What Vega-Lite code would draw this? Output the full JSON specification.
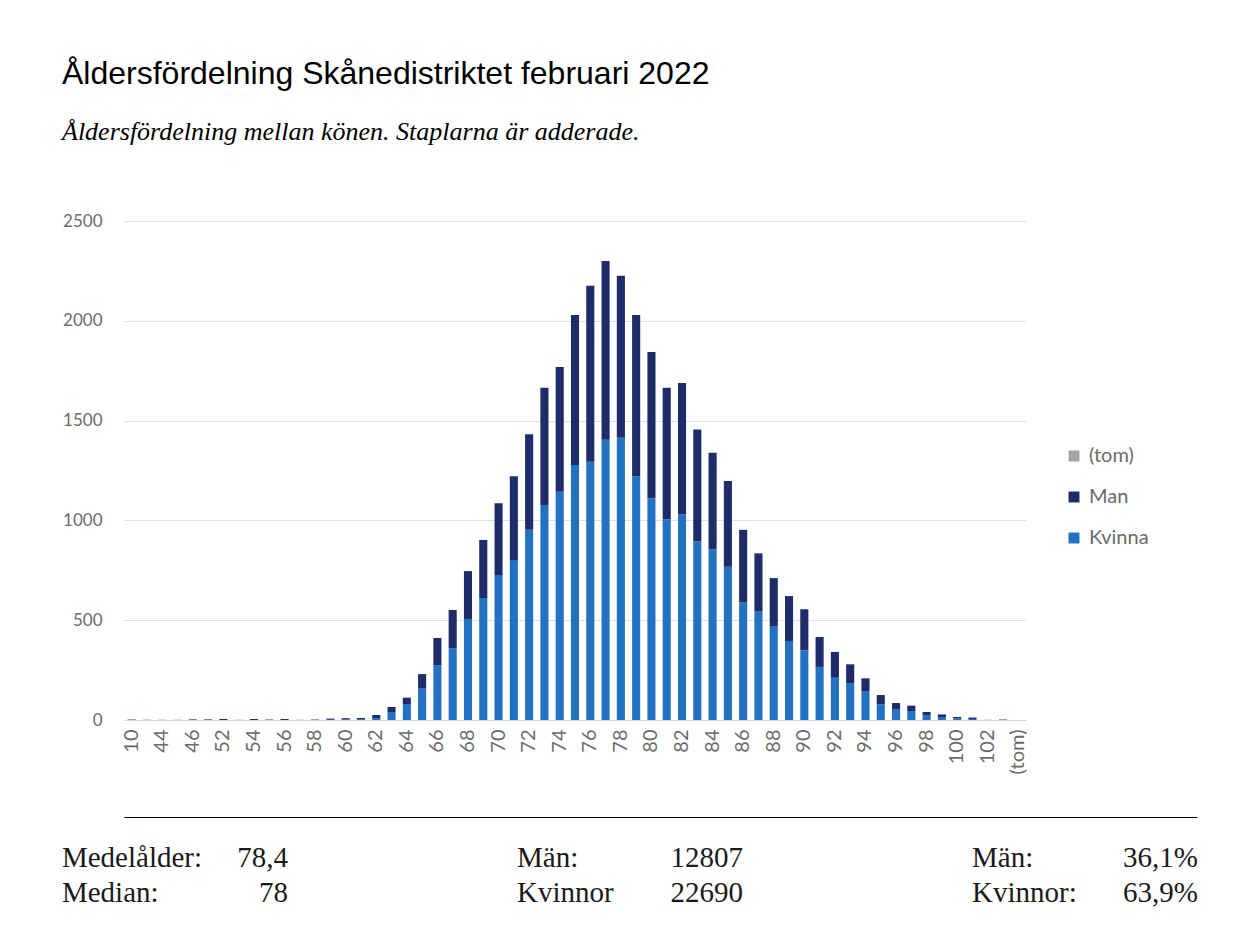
{
  "$schema": "https://vega.github.io/schema/vega-lite/v6.json",
  "padding": {"left": 42, "top": 58, "right": 5, "bottom": 0},
  "background": "white",
  "title": {
    "text": "Åldersfördelning Skånedistriktet februari 2022",
    "subtitle": "Åldersfördelning mellan könen. Staplarna är adderade.",
    "anchor": "start",
    "frame": "bounds",
    "dx": 20,
    "font": "Liberation Sans",
    "fontSize": 32,
    "fontWeight": "normal",
    "color": "#000000",
    "subtitleFont": "Liberation Serif",
    "subtitleFontSize": 26,
    "subtitleFontStyle": "italic",
    "subtitleColor": "#000000",
    "subtitlePadding": 28,
    "offset": 66
  },
  "datasets": {
    "alder": [
      {"alder": "10", "kon": "Kvinna", "antal": 3},
      {"alder": "43", "kon": "Man", "antal": 1},
      {"alder": "44", "kon": "Kvinna", "antal": 1},
      {"alder": "45", "kon": "Kvinna", "antal": 1},
      {"alder": "46", "kon": "Man", "antal": 3},
      {"alder": "51", "kon": "Man", "antal": 3},
      {"alder": "52", "kon": "Man", "antal": 5},
      {"alder": "53", "kon": "Kvinna", "antal": 1},
      {"alder": "54", "kon": "Man", "antal": 5},
      {"alder": "55", "kon": "Kvinna", "antal": 3},
      {"alder": "56", "kon": "Man", "antal": 5},
      {"alder": "57", "kon": "Kvinna", "antal": 1},
      {"alder": "58", "kon": "Kvinna", "antal": 3},
      {"alder": "59", "kon": "Kvinna", "antal": 1},
      {"alder": "59", "kon": "Man", "antal": 6},
      {"alder": "60", "kon": "Kvinna", "antal": 2},
      {"alder": "60", "kon": "Man", "antal": 7},
      {"alder": "61", "kon": "Kvinna", "antal": 2},
      {"alder": "61", "kon": "Man", "antal": 8},
      {"alder": "62", "kon": "Kvinna", "antal": 10},
      {"alder": "62", "kon": "Man", "antal": 15},
      {"alder": "63", "kon": "Kvinna", "antal": 40},
      {"alder": "63", "kon": "Man", "antal": 25},
      {"alder": "64", "kon": "Kvinna", "antal": 80},
      {"alder": "64", "kon": "Man", "antal": 32},
      {"alder": "65", "kon": "Kvinna", "antal": 157},
      {"alder": "65", "kon": "Man", "antal": 73},
      {"alder": "66", "kon": "Kvinna", "antal": 275},
      {"alder": "66", "kon": "Man", "antal": 136},
      {"alder": "67", "kon": "Kvinna", "antal": 360},
      {"alder": "67", "kon": "Man", "antal": 191},
      {"alder": "68", "kon": "Kvinna", "antal": 506},
      {"alder": "68", "kon": "Man", "antal": 240},
      {"alder": "69", "kon": "Kvinna", "antal": 611},
      {"alder": "69", "kon": "Man", "antal": 291},
      {"alder": "70", "kon": "Kvinna", "antal": 726},
      {"alder": "70", "kon": "Man", "antal": 360},
      {"alder": "71", "kon": "Kvinna", "antal": 801},
      {"alder": "71", "kon": "Man", "antal": 420},
      {"alder": "72", "kon": "Kvinna", "antal": 953},
      {"alder": "72", "kon": "Man", "antal": 478},
      {"alder": "73", "kon": "Kvinna", "antal": 1077},
      {"alder": "73", "kon": "Man", "antal": 588},
      {"alder": "74", "kon": "Kvinna", "antal": 1147},
      {"alder": "74", "kon": "Man", "antal": 621},
      {"alder": "75", "kon": "Kvinna", "antal": 1278},
      {"alder": "75", "kon": "Man", "antal": 751},
      {"alder": "76", "kon": "Kvinna", "antal": 1294},
      {"alder": "76", "kon": "Man", "antal": 882},
      {"alder": "77", "kon": "Kvinna", "antal": 1404},
      {"alder": "77", "kon": "Man", "antal": 896},
      {"alder": "78", "kon": "Kvinna", "antal": 1414},
      {"alder": "78", "kon": "Man", "antal": 812},
      {"alder": "79", "kon": "Kvinna", "antal": 1221},
      {"alder": "79", "kon": "Man", "antal": 808},
      {"alder": "80", "kon": "Kvinna", "antal": 1111},
      {"alder": "80", "kon": "Man", "antal": 733},
      {"alder": "81", "kon": "Kvinna", "antal": 1006},
      {"alder": "81", "kon": "Man", "antal": 659},
      {"alder": "82", "kon": "Kvinna", "antal": 1030},
      {"alder": "82", "kon": "Man", "antal": 659},
      {"alder": "83", "kon": "Kvinna", "antal": 895},
      {"alder": "83", "kon": "Man", "antal": 561},
      {"alder": "84", "kon": "Kvinna", "antal": 855},
      {"alder": "84", "kon": "Man", "antal": 484},
      {"alder": "85", "kon": "Kvinna", "antal": 768},
      {"alder": "85", "kon": "Man", "antal": 430},
      {"alder": "86", "kon": "Kvinna", "antal": 590},
      {"alder": "86", "kon": "Man", "antal": 363},
      {"alder": "87", "kon": "Kvinna", "antal": 546},
      {"alder": "87", "kon": "Man", "antal": 289},
      {"alder": "88", "kon": "Kvinna", "antal": 468},
      {"alder": "88", "kon": "Man", "antal": 243},
      {"alder": "89", "kon": "Kvinna", "antal": 396},
      {"alder": "89", "kon": "Man", "antal": 225},
      {"alder": "90", "kon": "Kvinna", "antal": 349},
      {"alder": "90", "kon": "Man", "antal": 206},
      {"alder": "91", "kon": "Kvinna", "antal": 266},
      {"alder": "91", "kon": "Man", "antal": 150},
      {"alder": "92", "kon": "Kvinna", "antal": 212},
      {"alder": "92", "kon": "Man", "antal": 129},
      {"alder": "93", "kon": "Kvinna", "antal": 185},
      {"alder": "93", "kon": "Man", "antal": 94},
      {"alder": "94", "kon": "Kvinna", "antal": 142},
      {"alder": "94", "kon": "Man", "antal": 67},
      {"alder": "95", "kon": "Kvinna", "antal": 79},
      {"alder": "95", "kon": "Man", "antal": 46},
      {"alder": "96", "kon": "Kvinna", "antal": 52},
      {"alder": "96", "kon": "Man", "antal": 33},
      {"alder": "97", "kon": "Kvinna", "antal": 45},
      {"alder": "97", "kon": "Man", "antal": 27},
      {"alder": "98", "kon": "Kvinna", "antal": 22},
      {"alder": "98", "kon": "Man", "antal": 18},
      {"alder": "99", "kon": "Kvinna", "antal": 15},
      {"alder": "99", "kon": "Man", "antal": 13},
      {"alder": "100", "kon": "Kvinna", "antal": 8},
      {"alder": "100", "kon": "Man", "antal": 7},
      {"alder": "101", "kon": "Kvinna", "antal": 5},
      {"alder": "101", "kon": "Man", "antal": 7},
      {"alder": "102", "kon": "Kvinna", "antal": 1},
      {"alder": "103", "kon": "Kvinna", "antal": 3},
      {"alder": "(tom)", "kon": "(tom)", "antal": 0}
    ],
    "fot": [
      {"kol": "medel", "rad": "1", "etikett": "Medelålder:", "varde": "78,4"},
      {"kol": "medel", "rad": "2", "etikett": "Median:", "varde": "78"},
      {"kol": "antal", "rad": "1", "etikett": "Män:", "varde": "12807"},
      {"kol": "antal", "rad": "2", "etikett": "Kvinnor", "varde": "22690"},
      {"kol": "andel", "rad": "1", "etikett": "Män:", "varde": "36,1%"},
      {"kol": "andel", "rad": "2", "etikett": "Kvinnor:", "varde": "63,9%"}
    ]
  },
  "spacing": 43,
  "columns": 1,
  "concat": [
    {
      "data": {"name": "alder"},
      "width": 902,
      "height": 499,
      "mark": {"type": "bar"},
      "encoding": {
        "x": {
          "field": "alder",
          "type": "nominal",
          "sort": null,
          "scale": {"paddingInner": 0.47},
          "axis": {
            "title": null,
            "values": ["10","44","46","52","54","56","58","60","62","64","66","68","70","72","74","76","78","80","82","84","86","88","90","92","94","96","98","100","102","(tom)"],
            "labelAngle": -90,
            "labelFont": "Lato",
            "labelFontSize": 20,
            "labelColor": "#6b6b6b",
            "ticks": false,
            "domainColor": "#D0D7E0",
            "labelPadding": 9,
            "grid": false
          }
        },
        "y": {
          "field": "antal",
          "type": "quantitative",
          "stack": "zero",
          "scale": {"domain": [0, 2500]},
          "axis": {
            "title": null,
            "values": [0, 500, 1000, 1500, 2000, 2500],
            "format": "d",
            "labelFont": "Lato",
            "labelFontSize": 17,
            "labelColor": "#6b6b6b",
            "ticks": false,
            "domain": false,
            "gridColor": "#DCE1E8",
            "labelPadding": 22,
            "minExtent": 82
          }
        },
        "color": {
          "field": "kon",
          "type": "nominal",
          "scale": {"domain": ["(tom)", "Man", "Kvinna"], "range": ["#A5A5A5", "#1E2D69", "#2372C1"]},
          "legend": {
            "title": null,
            "orient": "none",
            "legendX": 940,
            "legendY": 225,
            "padding": 0,
            "labelFont": "Lato",
            "labelFontSize": 20,
            "labelColor": "#6b6b6b",
            "symbolType": "square",
            "symbolSize": 120,
            "symbolStrokeWidth": 0,
            "rowPadding": 21,
            "labelOffset": 5
          }
        },
        "order": {"field": "kon", "sort": "ascending"}
      }
    },
    {
      "data": {"name": "fot"},
      "width": 1073,
      "height": 105,
      "encoding": {
        "x": {
          "field": "kol",
          "type": "ordinal",
          "sort": null,
          "scale": {"type": "point", "padding": 0.179},
          "axis": {"orient": "top", "title": null, "labels": false, "ticks": false, "grid": false, "domainColor": "#000000", "domainWidth": 1.2}
        },
        "y": {
          "field": "rad",
          "type": "ordinal",
          "sort": null,
          "scale": {"type": "point", "padding": 1},
          "axis": null
        }
      },
      "layer": [
        {
          "mark": {"type": "text", "align": "left", "baseline": "middle", "dx": -143.5, "dy": 6, "font": "Liberation Serif", "fontSize": 29, "color": "#1a1a1a"},
          "encoding": {"text": {"field": "etikett"}}
        },
        {
          "mark": {"type": "text", "align": "right", "baseline": "middle", "dx": 82.5, "dy": 6, "font": "Liberation Serif", "fontSize": 29, "color": "#1a1a1a"},
          "encoding": {"text": {"field": "varde"}}
        }
      ]
    }
  ],
  "config": {"view": {"stroke": null}}
}
